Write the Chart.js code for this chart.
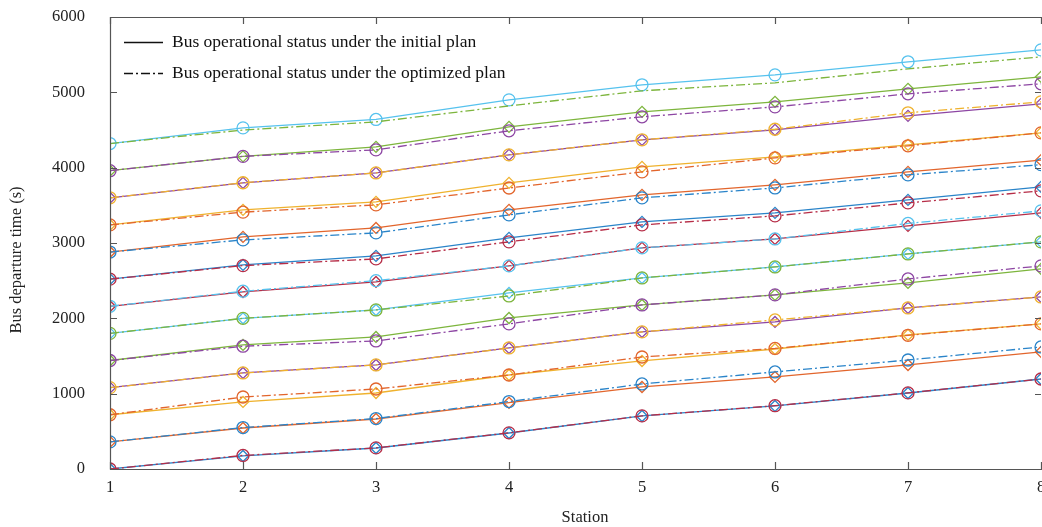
<!DOCTYPE html>
<html>
<head>
<meta charset="utf-8">
<script src="https://cdn.jsdelivr.net/npm/chart.js@4"></script>
<style>
  body { margin: 0; background: #fff; }
  #wrap { width: 1042px; height: 527px; position: relative; }
</style>
</head>
<body>
<div id="wrap"><canvas id="busChart"></canvas></div>
<script>
// stations along the route
const stations = [1, 2, 3, 4, 5, 6, 7, 8];

// departure time (s) of each bus at each station, initial plan
const initialPlan = [
    [0, 173, 279, 478, 704, 837, 1009, 1195],
    [360, 544, 664, 880, 1089, 1222, 1381, 1554],
    [720, 890, 1009, 1248, 1434, 1593, 1780, 1926],
    [1080, 1275, 1381, 1607, 1820, 1952, 2138, 2284],
    [1440, 1647, 1753, 2005, 2178, 2311, 2470, 2656],
    [1800, 2000, 2111, 2337, 2536, 2682, 2855, 3015],
    [2160, 2350, 2483, 2696, 2935, 3054, 3227, 3400],
    [2520, 2709, 2829, 3068, 3280, 3400, 3572, 3745],
    [2880, 3081, 3200, 3440, 3639, 3772, 3944, 4100],
    [3240, 3440, 3546, 3798, 4010, 4143, 4303, 4462],
    [3600, 3798, 3931, 4170, 4369, 4502, 4688, 4847],
    [3960, 4150, 4276, 4542, 4741, 4874, 5046, 5206],
    [4320, 4528, 4640, 4900, 5100, 5232, 5405, 5564]
];

// departure time (s) of each bus at each station, optimized plan
const optimizedPlan = [
    [0, 180, 280, 480, 705, 840, 1010, 1195],
    [360, 550, 670, 895, 1129, 1288, 1447, 1620],
    [720, 956, 1062, 1248, 1487, 1600, 1775, 1926],
    [1080, 1275, 1381, 1607, 1820, 1979, 2138, 2284],
    [1440, 1630, 1700, 1926, 2178, 2311, 2523, 2696],
    [1800, 2000, 2111, 2297, 2536, 2682, 2855, 3015],
    [2160, 2360, 2500, 2696, 2935, 3054, 3260, 3426],
    [2520, 2700, 2789, 3015, 3240, 3360, 3532, 3692],
    [2880, 3041, 3134, 3373, 3599, 3731, 3904, 4040],
    [3240, 3410, 3506, 3730, 3944, 4130, 4290, 4462],
    [3600, 3800, 3930, 4170, 4370, 4510, 4728, 4874],
    [3960, 4150, 4236, 4489, 4675, 4807, 4980, 5113],
    [4320, 4500, 4608, 4820, 5020, 5126, 5312, 5471]
];

const legendLabels = [
    'Bus operational status under the initial plan',
    'Bus operational status under the optimized plan'
];
const xTitle = 'Station';
const yTitle = 'Bus departure time (s)';

// MATLAB-like colour order (slightly lightened like the print)
const palette = ['#2a84c9', '#e2652c', '#efb22e', '#8d46a3', '#7db53d', '#56c2ee', '#b62d47'];
const dashDot = [9, 3, 2, 3];
const serif = '"Liberation Serif", "DejaVu Serif", serif';

const toPoints = row => row.map((v, i) => ({ x: stations[i], y: v }));

const datasets = [];
initialPlan.forEach((row, i) => {
    const last = i === initialPlan.length - 1;
    datasets.push({
        data: toPoints(row),
        borderColor: palette[i % 7],
        borderWidth: 1.3,
        pointStyle: last ? 'circle' : 'rectRot',
        pointRadius: last ? 6 : 5.5,
        pointBorderColor: palette[i % 7],
        pointBackgroundColor: 'rgba(0,0,0,0)',
        pointBorderWidth: 1.3,
        order: 1
    });
});
optimizedPlan.forEach((row, i) => {
    const c = palette[(i + initialPlan.length) % 7];
    const last = i === optimizedPlan.length - 1;
    datasets.push({
        data: toPoints(row),
        borderColor: c,
        borderWidth: 1.3,
        borderDash: dashDot,
        pointStyle: 'circle',
        pointRadius: last ? 0 : 6,
        pointBorderColor: c,
        pointBackgroundColor: 'rgba(0,0,0,0)',
        pointBorderWidth: 1.3,
        order: 0
    });
});

// box frame with inward ticks, axis titles, legend inside the plot
const framePlugin = {
    id: 'frame',
    afterDatasetsDraw(chart) {
        const { ctx, chartArea: a, scales: { x, y } } = chart;
        ctx.save();
        ctx.strokeStyle = '#555';
        ctx.lineWidth = 1.2;
        ctx.beginPath();
        ctx.moveTo(a.right + 2, a.top + 0.5);
        ctx.lineTo(a.left + 0.5, a.top + 0.5);
        ctx.lineTo(a.left + 0.5, a.bottom + 0.5);
        ctx.lineTo(a.right + 2, a.bottom + 0.5);
        ctx.stroke();
        ctx.beginPath();
        y.ticks.forEach(t => {
            const py = Math.round(y.getPixelForValue(t.value)) + 0.5;
            ctx.moveTo(a.left, py); ctx.lineTo(a.left + 7, py);
            ctx.moveTo(a.right, py); ctx.lineTo(a.right - 6, py);
        });
        x.ticks.forEach(t => {
            const px = Math.round(x.getPixelForValue(t.value)) + 0.5;
            ctx.moveTo(px, a.bottom); ctx.lineTo(px, a.bottom - 7);
            ctx.moveTo(px, a.top); ctx.lineTo(px, a.top + 7);
        });
        ctx.stroke();

        // axis titles
        ctx.fillStyle = '#222';
        ctx.font = '16.5px ' + serif;
        ctx.textAlign = 'center';
        ctx.textBaseline = 'middle';
        ctx.fillText(xTitle, 585, 518);
        ctx.save();
        ctx.translate(17, 260);
        ctx.rotate(-Math.PI / 2);
        ctx.fillText(yTitle, 0, 0);
        ctx.restore();

        // legend
        ctx.strokeStyle = '#111';
        ctx.lineWidth = 1.3;
        ctx.fillStyle = '#111';
        ctx.font = '17.5px ' + serif;
        ctx.textAlign = 'left';
        const rows = [42, 73];
        rows.forEach((ly, k) => {
            ctx.setLineDash(k === 0 ? [] : dashDot);
            ctx.beginPath();
            ctx.moveTo(a.left + 14, ly + 0.5);
            ctx.lineTo(a.left + 53, ly + 0.5);
            ctx.stroke();
            ctx.fillText(legendLabels[k], a.left + 62, ly);
        });
        ctx.restore();
    }
};

new Chart(document.getElementById('busChart'), {
    type: 'line',
    data: { datasets },
    options: {
        responsive: true,
        maintainAspectRatio: false,
        animation: false,
        layout: { autoPadding: false, padding: { top: 17, right: 1, left: 0, bottom: 0 } },
        plugins: { legend: { display: false }, tooltip: { enabled: false } },
        elements: { line: { tension: 0 } },
        scales: {
            x: {
                type: 'linear',
                min: 1,
                max: 8,
                grid: { display: false, drawTicks: false },
                border: { display: false },
                ticks: { stepSize: 1, padding: 9, color: '#222', font: { family: serif, size: 16.5 } },
                afterFit: s => { s.height = 58; s.paddingLeft = 0; s.paddingRight = 0; }
            },
            y: {
                min: 0,
                max: 6000,
                grid: { display: false, drawTicks: false },
                border: { display: false },
                ticks: { stepSize: 1000, padding: 25, color: '#222', font: { family: serif, size: 16.5 },
                         callback: v => String(v) },
                afterFit: s => { s.width = 110; s.paddingTop = 0; s.paddingBottom = 0; }
            }
        }
    },
    plugins: [framePlugin]
});
</script>
</body>
</html>
